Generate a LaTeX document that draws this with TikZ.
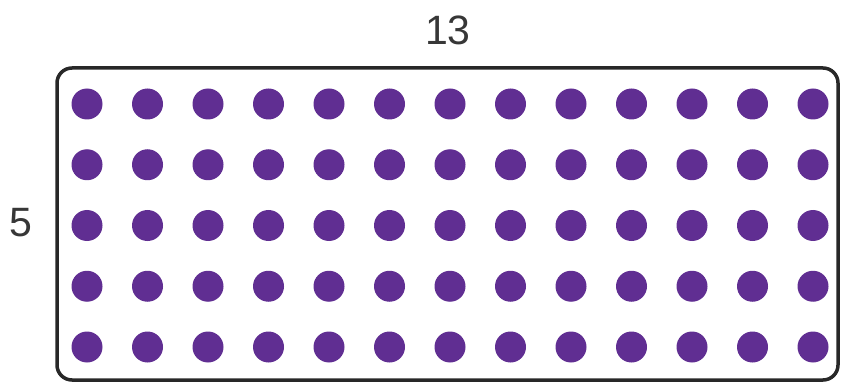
\documentclass[tikz,border=0pt]{standalone}
\usepackage{fontspec}
\setmainfont{Liberation Sans}
\definecolor{dotpurple}{RGB}{96,46,146}
\definecolor{framegray}{RGB}{40,40,40}
\definecolor{labelgray}{RGB}{55,55,55}
\tikzset{
  dotmark/.style={circle,fill=dotpurple,inner sep=0pt,minimum size=31pt},
  framebox/.style={draw=framegray,line width=3.5pt,rounded corners=15pt},
  dimlabel/.style={text=labelgray,font=\fontsize{41}{41}\selectfont,inner sep=0pt}
}
\begin{document}
\begin{tikzpicture}[x=1pt,y=-1pt]
\useasboundingbox (0,0) rectangle (843,382);
\draw[framebox] (57,68) rectangle (838,380);
\foreach \i in {0,...,12}{
  \foreach \j in {0,...,4}{
    \node[dotmark] (d-\i-\j) at ({87+60.5*\i},{104+60.75*\j}) {};
  }
}
\node[dimlabel] (top) at (448,30) {13};
\node[dimlabel] (side) at (21,223) {5};
\end{tikzpicture}
\end{document}
